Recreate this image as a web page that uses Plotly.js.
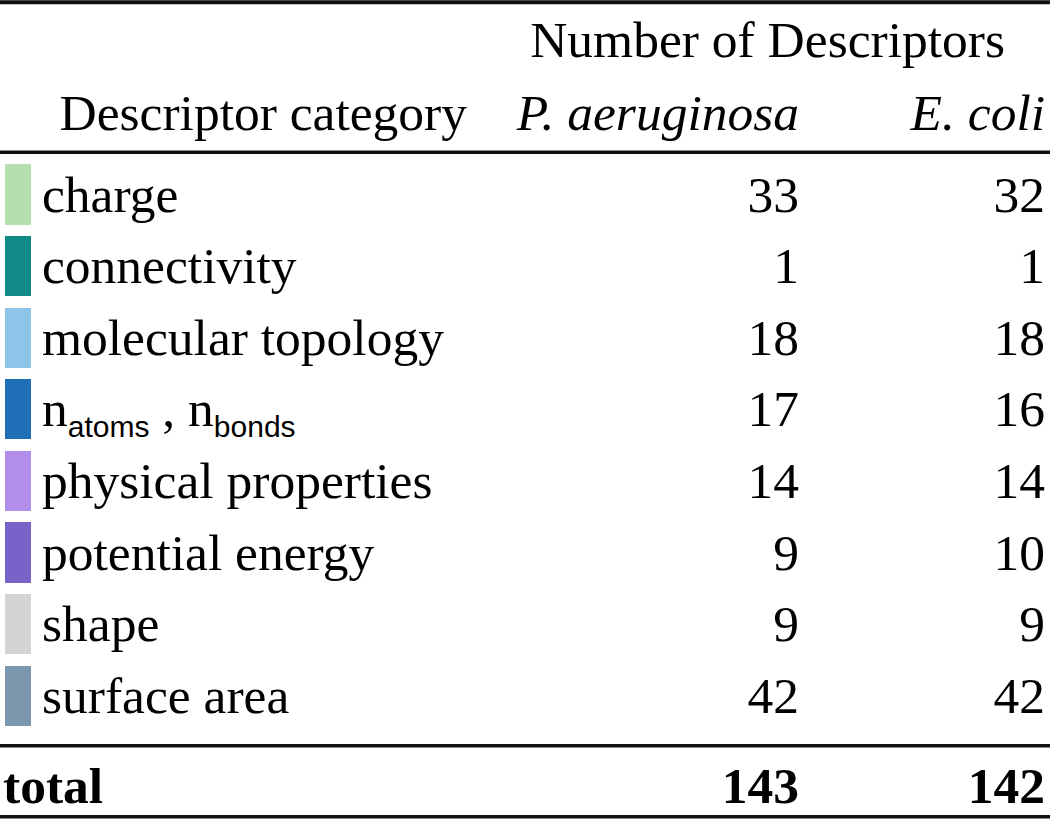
<!DOCTYPE html>
<html>
<head>
<meta charset="utf-8">
<script src="https://cdn.plot.ly/plotly-3.0.1.min.js"></script>
<style>html,body{margin:0;padding:0;background:#fff;}</style>
</head>
<body>
<div id="chart" style="width:1050px;height:820px;"></div>
<script>
// ---- data ----
const SUBSTYLE = "font-family:Liberation Sans, Arial, sans-serif;font-size:30px";
const categories = ["charge", "connectivity", "molecular topology",
  "n<sub><span style=\"" + SUBSTYLE + "\">atoms</span></sub> , n<sub><span style=\"" + SUBSTYLE + "\">bonds</span></sub>",
  "physical properties", "potential energy", "shape", "surface area"];
const pAeruginosa = [33, 1, 18, 17, 14, 9, 9, 42];
const eColi = [32, 1, 18, 16, 14, 10, 9, 42];
const totalLabel = "total";
const totals = [143, 142];
const headerGroup = "Number of Descriptors";
const headerCategory = "Descriptor category";
const headerSpecies = ["<i>P. aeruginosa</i>", "<i>E. coli</i>"];
const swatchColors = ["#b6dfb0", "#0f8a86", "#8dc4e8", "#1f6fb6",
  "#b08ee9", "#7963c9", "#d4d4d4", "#7c96ae"];

// ---- layout constants ----
const FONT = "Liberation Serif, Times New Roman, serif";
const FS = 51.5;
const dy = 0.06;
const rowIdx = categories.map((_, i) => i);
const rowText = rowIdx.map(i => i + dy);
const colP = 799, colE = 1045, labelX = 42;
const yHead1 = -2.16 + dy, yHead2 = -1.14 + dy, yTotal = 8.26 + dy;

const txt = (x, y, text, pos, extra) => Object.assign({
  type: "scatter", mode: "text", x: x, y: y, text: text,
  textposition: pos, hoverinfo: "skip", showlegend: false, cliponaxis: false,
  textfont: {family: FONT, size: FS, color: "#000"}
}, extra || {});

const traces = [
  {type: "bar", orientation: "h", y: rowIdx, x: rowIdx.map(() => 26), base: 5,
   width: 0.84, marker: {color: swatchColors, line: {width: 0}},
   hoverinfo: "skip", showlegend: false},
  txt(rowIdx.map(() => labelX), rowText, categories, "middle right"),
  txt(rowIdx.map(() => colP), rowText, pAeruginosa.map(String), "middle left"),
  txt(rowIdx.map(() => colE), rowText, eColi.map(String), "middle left"),
  txt([1005], [yHead1], [headerGroup], "middle left"),
  txt([467], [yHead2], [headerCategory], "middle left"),
  txt([colP, colE], [yHead2, yHead2], headerSpecies, "middle left"),
  txt([3], [yTotal], ["<b>" + totalLabel + "</b>"], "middle right"),
  txt([colP, colE], [yTotal, yTotal], totals.map(v => "<b>" + v + "</b>"), "middle left")
];

const hline = (y, w) => ({type: "line", xref: "paper", yref: "y", x0: 0, x1: 1,
  y0: y, y1: y, line: {color: "#111", width: w}});

const layout = {
  width: 1050, height: 820,
  margin: {l: 0, r: 0, t: 0, b: 0},
  paper_bgcolor: "#fff", plot_bgcolor: "#fff",
  xaxis: {range: [0, 1050], visible: false, fixedrange: true},
  yaxis: {range: [8.736, -2.716], visible: false, fixedrange: true},
  shapes: [hline(-2.685, 4), hline(-0.59, 3.5), hline(7.70, 3.5), hline(8.69, 3.5)],
  bargap: 0
};

Plotly.newPlot("chart", traces, layout, {staticPlot: true, displayModeBar: false});
</script>
</body>
</html>
